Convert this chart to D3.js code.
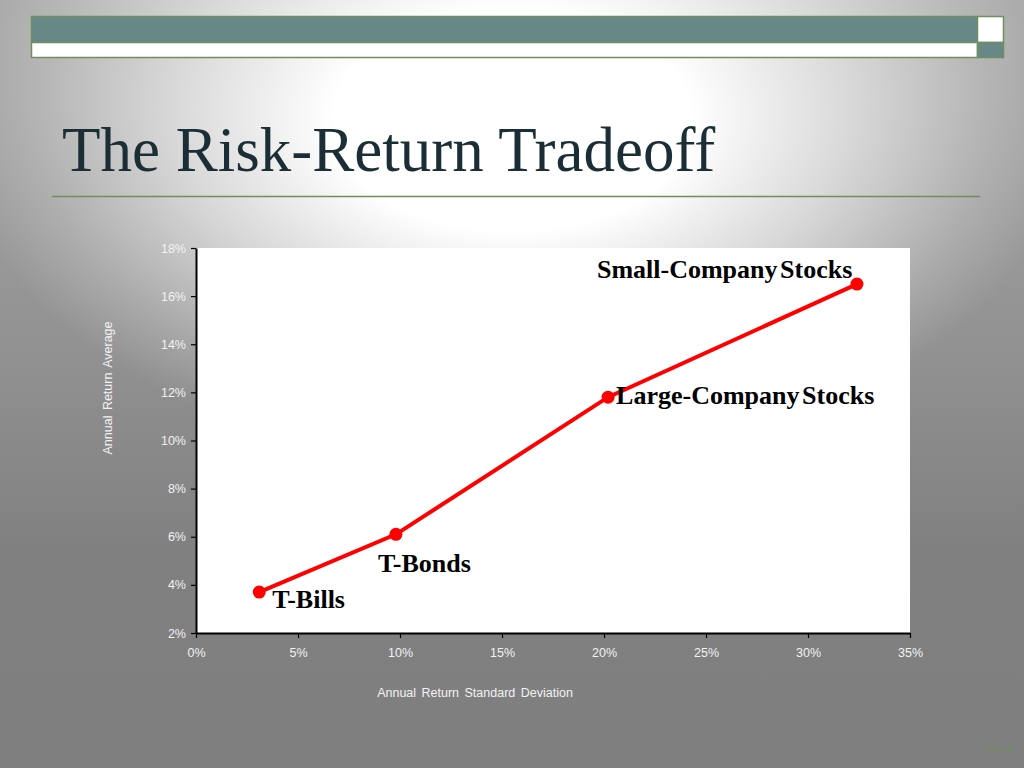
<!DOCTYPE html>
<html><head><meta charset="utf-8">
<script src="https://cdn.jsdelivr.net/npm/d3@7"></script>
<style>
html,body{margin:0;padding:0;width:1024px;height:768px;overflow:hidden;}
svg{display:block;}
</style></head>
<body>
<script>
const assets = ["T-Bills", "T-Bonds", "Large-Company Stocks", "Small-Company Stocks"];
const stdDev = [3.1, 9.8, 20.2, 32.4];
const avgReturn = [3.7, 6.1, 11.8, 16.5];
const xTicks = [0, 5, 10, 15, 20, 25, 30, 35];
const yTicks = [2, 4, 6, 8, 10, 12, 14, 16, 18];
const title = "The Risk-Return Tradeoff";
const xTitle = "Annual Return Standard Deviation";
const yTitle = "Annual Return Average";
const pageNo = "10-14";

const W = 1024, H = 768;
const svg = d3.select("body").append("svg").attr("width", W).attr("height", H);
const defs = svg.append("defs");
const lg = defs.append("linearGradient").attr("id", "base").attr("x1", 0).attr("x2", 0).attr("y1", 0).attr("y2", 1);
lg.append("stop").attr("offset", "0").attr("stop-color", "#a8a8a8");
lg.append("stop").attr("offset", "0.45").attr("stop-color", "#929292");
lg.append("stop").attr("offset", "0.72").attr("stop-color", "#808080");
lg.append("stop").attr("offset", "1").attr("stop-color", "#7f7f7f");
const rg = defs.append("radialGradient").attr("id", "glow")
  .attr("gradientUnits", "userSpaceOnUse")
  .attr("cx", 512).attr("cy", 120).attr("r", 560)
  .attr("gradientTransform", "translate(512,120) scale(1,0.62) translate(-512,-120)");
rg.append("stop").attr("offset", "0").attr("stop-color", "#ffffff").attr("stop-opacity", 1);
rg.append("stop").attr("offset", "0.32").attr("stop-color", "#ffffff").attr("stop-opacity", 1);
rg.append("stop").attr("offset", "0.6").attr("stop-color", "#ffffff").attr("stop-opacity", 0.6);
rg.append("stop").attr("offset", "0.85").attr("stop-color", "#ffffff").attr("stop-opacity", 0.2);
rg.append("stop").attr("offset", "1").attr("stop-color", "#ffffff").attr("stop-opacity", 0);
svg.append("rect").attr("width", W).attr("height", H).attr("fill", "url(#base)");
svg.append("rect").attr("width", W).attr("height", H).attr("fill", "url(#glow)");

// header bars
const hb = svg.append("g");
hb.append("rect").attr("x", 31.5).attr("y", 16.5).attr("width", 946).attr("height", 26)
  .attr("fill", "#688888").attr("stroke", "#6f8f60").attr("stroke-width", 1.5);
hb.append("rect").attr("x", 977.5).attr("y", 16.5).attr("width", 26).attr("height", 26)
  .attr("fill", "#ffffff").attr("stroke", "#6f8f60").attr("stroke-width", 1.5);
hb.append("rect").attr("x", 31.5).attr("y", 42.5).attr("width", 946).attr("height", 15)
  .attr("fill", "#ffffff").attr("stroke", "#6f8f60").attr("stroke-width", 1.5);
hb.append("rect").attr("x", 977.5).attr("y", 42.5).attr("width", 26).attr("height", 15)
  .attr("fill", "#688888").attr("stroke", "#6f8f60").attr("stroke-width", 1.5);

// title
svg.append("text").attr("x", 62).attr("y", 171)
  .attr("font-family", "'Liberation Serif', 'Times New Roman', serif")
  .attr("font-size", 63).attr("fill", "#1b2e36").text(title);
svg.append("line").attr("x1", 52).attr("x2", 980).attr("y1", 196.5).attr("y2", 196.5)
  .attr("stroke", "#6f8f60").attr("stroke-width", 1.5);

// chart
const m = {l: 196, r: 910, t: 248, b: 633};
const x = d3.scaleLinear().domain([0, 35]).range([m.l, m.r]);
const y = d3.scaleLinear().domain([2, 18]).range([m.b, m.t]);

svg.append("rect").attr("x", m.l).attr("y", m.t).attr("width", m.r - m.l).attr("height", m.b - m.t)
  .attr("fill", "#ffffff");

const fmt = d => d + "%";
const xAxis = svg.append("g").attr("transform", `translate(0,${m.b})`)
  .call(d3.axisBottom(x).tickValues(xTicks).tickFormat(fmt).tickSize(5).tickSizeOuter(0));
const yAxis = svg.append("g").attr("transform", `translate(${m.l},0)`)
  .call(d3.axisLeft(y).tickValues(yTicks).tickFormat(fmt).tickSize(5).tickSizeOuter(0));
[xAxis, yAxis].forEach(a => {
  a.select(".domain").attr("stroke", "#000").attr("stroke-width", 2);
  a.selectAll(".tick line").attr("stroke", "#000").attr("stroke-width", 1.2);
  a.selectAll(".tick text").attr("fill", "#f2f2f2")
    .attr("font-family", "'Liberation Sans', Arial, sans-serif").attr("font-size", 12.5);
});
xAxis.selectAll(".tick text").attr("dy", "1.25em");
yAxis.selectAll(".tick text").attr("x", -10);

svg.append("text").attr("x", 475).attr("y", 697).attr("text-anchor", "middle")
  .attr("fill", "#f2f2f2").attr("font-family", "'Liberation Sans', Arial, sans-serif")
  .attr("font-size", 12.5).attr("word-spacing", 2).text(xTitle);
svg.append("text").attr("transform", "translate(112,388) rotate(-90)").attr("text-anchor", "middle")
  .attr("fill", "#f2f2f2").attr("font-family", "'Liberation Sans', Arial, sans-serif")
  .attr("font-size", 12.5).attr("word-spacing", 2).text(yTitle);

const pts = assets.map((a, i) => ({name: a, sx: stdDev[i], ry: avgReturn[i]}));
svg.append("path").datum(pts)
  .attr("d", d3.line().x(d => x(d.sx)).y(d => y(d.ry)))
  .attr("fill", "none").attr("stroke", "#ff0000").attr("stroke-width", 4);
svg.selectAll("circle.pt").data(pts).join("circle").attr("class", "pt")
  .attr("cx", d => x(d.sx)).attr("cy", d => y(d.ry)).attr("r", 6.5).attr("fill", "#ff0000");

const lblOff = [[13, 16], [-18, 38], [8, 7], [-260, -6]];
svg.selectAll("text.lbl").data(pts).join("text").attr("class", "lbl")
  .attr("x", (d, i) => x(d.sx) + lblOff[i][0]).attr("y", (d, i) => y(d.ry) + lblOff[i][1])
  .attr("font-family", "'Liberation Serif', 'Times New Roman', serif").attr("font-weight", "bold")
  .attr("font-size", 26).attr("fill", "#000").attr("word-spacing", -4).text(d => d.name);

svg.append("text").attr("x", 1013).attr("y", 753).attr("text-anchor", "end")
  .attr("font-family", "'Liberation Serif', serif").attr("font-size", 13)
  .attr("fill", "#6f8f60").text(pageNo);
</script>
</body></html>
